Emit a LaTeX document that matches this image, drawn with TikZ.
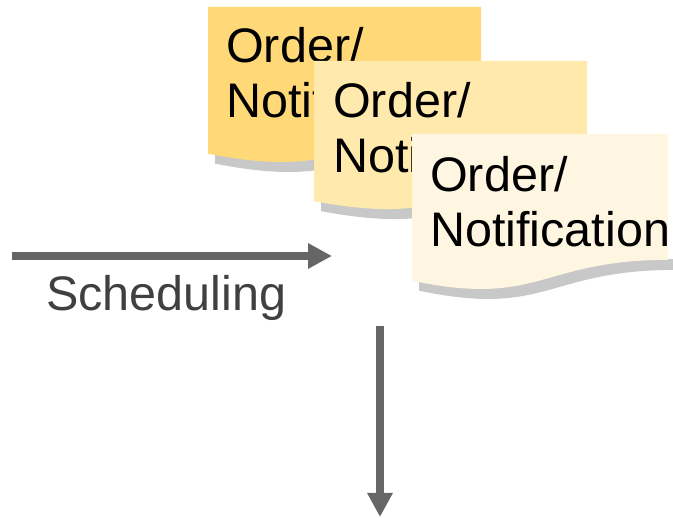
\documentclass[tikz,border=0pt]{standalone}
\usepackage{fontspec}
\setmainfont{Liberation Sans}
\usepackage{tikz}
\usetikzlibrary{arrows.meta}
\definecolor{flowgray}{HTML}{666666}
\definecolor{textgray}{HTML}{404040}
\definecolor{docshadow}{HTML}{C8C8C8}
\definecolor{docA}{HTML}{FFD978}
\definecolor{docB}{HTML}{FFE9AD}
\definecolor{docC}{HTML}{FFF6E1}

% document outline: x, y (top left), width, height
\newcommand{\docpath}[4]{(#1,#2) -- ({#1+#3},#2) -- ({#1+#3},{#2+0.802*#4})
       .. controls ({#1+0.5*#3},{#2+0.802*#4}) and ({#1+0.5*#3},{#2+1.107*#4}) .. (#1,{#2+0.934*#4}) -- cycle}

% document with its shadow below: x, y, width, height, colour
\newcommand{\orderdoc}[5]{%
  \begin{scope}
    \clip (#1,{#2+0.8*#4}) rectangle ({#1+#3+20},{#2+#4+30});
    \fill[docshadow, shift={(7,10)}] \docpath{#1}{#2}{#3}{#4};
  \end{scope}
  \fill[#5] \docpath{#1}{#2}{#3}{#4};
}

\begin{document}
\begin{tikzpicture}[x=1pt,y=-1pt,
    doctext/.style={font=\fontsize{48.5}{55}\selectfont, align=left, inner sep=0pt, anchor=north west},
    flow/.style={draw=flowgray, line width=8pt, -{Triangle[length=24pt,width=24pt]}}]
  \useasboundingbox (0,0) rectangle (673,518);

  % three stacked documents
  \orderdoc{208}{7}{273}{157}{docA}
  \node[doctext] (order1) at (226,27) {Order/\\Notification};
  \orderdoc{314}{61}{273}{150}{docB}
  \node[doctext] (order2) at (333,82) {Order/\\Notification};
  \orderdoc{412}{134}{256}{157}{docC}
  \node[doctext] (order3) at (430,156) {Order/\\Notification};

  % scheduling arrow
  \coordinate (sIn) at (12,256);
  \coordinate (sOut) at (332,256);
  \draw[flow] (sIn) -- (sOut);
  \node[font=\fontsize{48.5}{55}\selectfont, text=textgray, inner sep=0pt, anchor=base west]
       (sched) at (46,311) {Scheduling};

  % downward arrow
  \coordinate (dTop) at (380,326);
  \coordinate (dBot) at (380,517);
  \draw[flow] (dTop) -- (dBot);
\end{tikzpicture}
\end{document}
